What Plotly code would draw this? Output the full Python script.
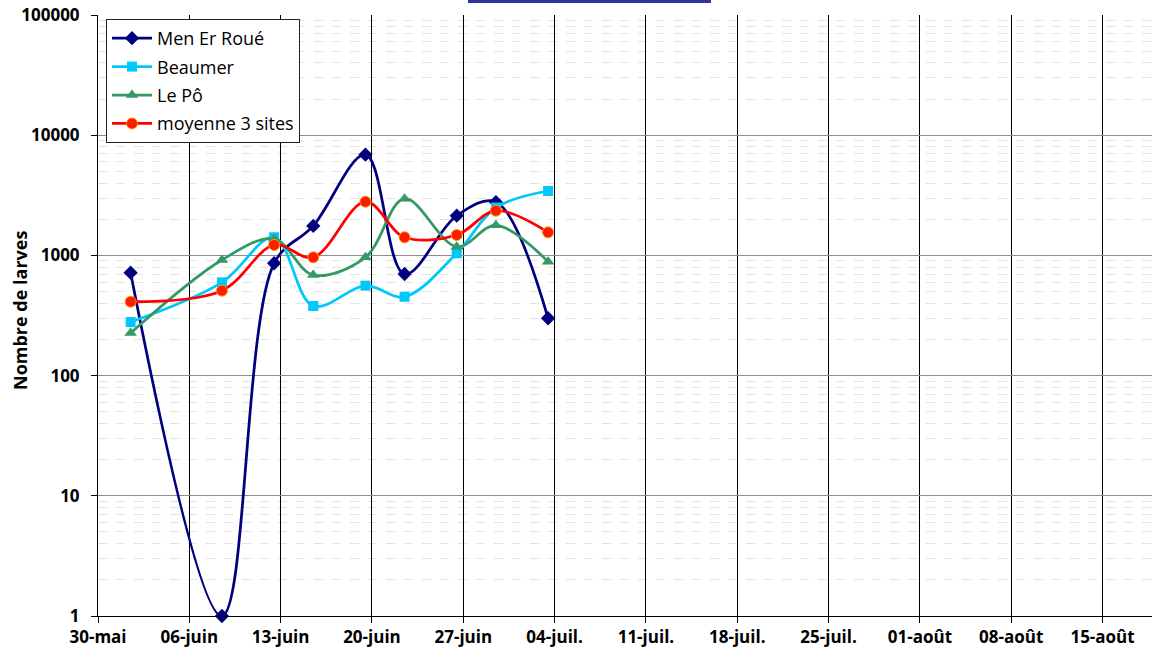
import plotly.graph_objects as go
import pandas as pd

# ---- data ----
dates = ["2021-06-01", "2021-06-08", "2021-06-12", "2021-06-15", "2021-06-19",
         "2021-06-22", "2021-06-26", "2021-06-29", "2021-07-03"]
men_er_roue = [718, 1, 860, 1760, 6880, 700, 2140, 2780, 300]
beaumer = [279, 597, 1415, 379, 560, 453, 1041, 2500, 3435]
le_po = [226, 916, 1370, 687, 964, 2963, 1181, 1779, 887]
moyenne = [412, 509, 1221, 964, 2798, 1415, 1479, 2354, 1557]

tick_dates = ["2021-05-30", "2021-06-06", "2021-06-13", "2021-06-20", "2021-06-27",
              "2021-07-04", "2021-07-11", "2021-07-18", "2021-07-25", "2021-08-01",
              "2021-08-08", "2021-08-15"]
tick_labels = ["30-mai", "06-juin", "13-juin", "20-juin", "27-juin", "04-juil.",
               "11-juil.", "18-juil.", "25-juil.", "01-août", "08-août", "15-août"]
y_tickvals = [1, 10, 100, 1000, 10000, 100000]
y_ticklabels = ["1", "10", "100", "1000", "10000", "100000"]
y_title = "Nombre de larves"

# Excel date axis centres points in the middle of the day slot
x = pd.to_datetime(dates) + pd.Timedelta(hours=12)

FONT = "Open Sans"
W, H = 1152, 654
L, R, T, B = 98, 0, 15, 38
PW, PH = W - L - R, H - T - B

fig = go.Figure()

series = [
    ("Men Er Roué", men_er_roue, "#000080", dict(symbol="diamond", size=11, color="#000080")),
    ("Beaumer", beaumer, "#00C8F8", dict(symbol="square", size=10, color="#00C8F8")),
    ("Le Pô", le_po, "#339966", dict(symbol="triangle-up", size=11, color="#339966")),
    ("moyenne 3 sites", moyenne, "#FF0000",
     dict(symbol="circle", size=11, color="#FF1A00", line=dict(color="#FF9900", width=1))),
]
for i, (name, vals, col, mk) in enumerate(series):
    fig.add_trace(go.Scatter(
        x=x, y=vals, name=name, mode="lines+markers",
        line=dict(color=col, width=2.75, shape="spline", smoothing=1),
        marker=mk, cliponaxis=False, legendgroup=f"g{i}",
    ))

fig.update_layout(
    width=W, height=H,
    margin=dict(l=L, r=R, t=T, b=B),
    paper_bgcolor="white", plot_bgcolor="white",
    font=dict(family=FONT, color="black"),
    showlegend=True,
    legend=dict(
        x=(106 - L) / PW, y=1 - (19 - T) / PH, xanchor="left", yanchor="top",
        bgcolor="white", bordercolor="#222222", borderwidth=1,
        font=dict(family=FONT, size=18, color="black"),
        traceorder="grouped", tracegroupgap=2, itemwidth=40,
    ),
    xaxis=dict(
        type="date", automargin=False,
        range=["2021-05-30", "2021-08-18 19:00"],
        tickvals=tick_dates, ticktext=tick_labels,
        showgrid=True, gridcolor="black", gridwidth=1,
        showline=True, linecolor="black", linewidth=1,
        ticks="outside", ticklen=6, tickcolor="black",
        tickfont=dict(family=FONT, size=17, color="black", weight="bold"),
        zeroline=False,
    ),
    yaxis=dict(
        type="log", range=[0, 5], automargin=False,
        tickvals=y_tickvals, ticktext=y_ticklabels,
        showgrid=True, gridcolor="#8c8c8c", gridwidth=1,
        minor=dict(showgrid=True, dtick="D1", gridcolor="#e3e3e3", griddash="dash",
                   gridwidth=1, ticks=""),
        showline=True, linecolor="black", linewidth=1,
        ticks="outside", ticklen=6, tickcolor="black",
        ticklabelstandoff=8,
        tickfont=dict(family=FONT, size=17, color="black", weight="bold"),
        zeroline=False,
    ),
)

# y-axis title placed as an annotation for exact position
fig.add_annotation(
    text=y_title, textangle=-90, showarrow=False,
    xref="paper", yref="paper",
    x=(20 - L) / PW, y=1 - (311 - T) / PH, xanchor="center", yanchor="middle",
    font=dict(family=FONT, size=18, color="black", weight="bold"),
)

# remnant of the (cropped) underlined title at the top
fig.add_shape(type="line", xref="paper", yref="paper",
              x0=(468 - L) / PW, x1=(711 - L) / PW,
              y0=1 + (T - 1.5) / PH, y1=1 + (T - 1.5) / PH,
              line=dict(color="#3333A0", width=3))

fig.write_html("out.html", config={"displayModeBar": False},
               post_script="document.body.style.margin='0';")
